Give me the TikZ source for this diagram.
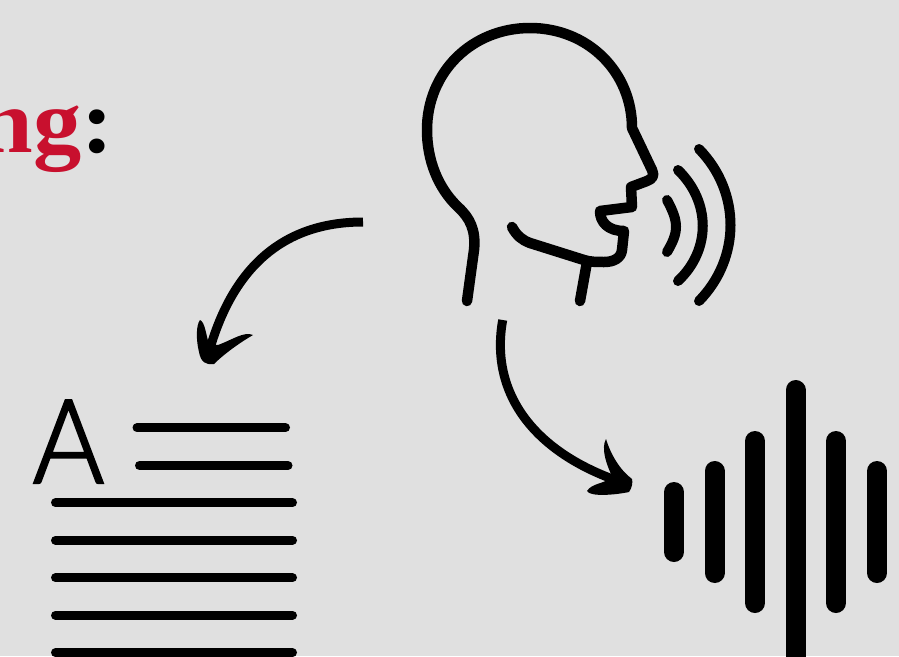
\documentclass[tikz,border=0pt]{standalone}
\usepackage{fontspec}
\setmainfont{Liberation Serif}
\newfontfamily\lightfont[FakeBold=2,FakeStretch=0.93]{Lato Light}
\newfontfamily\headfont[FakeStretch=1.06]{Liberation Serif Bold}
\definecolor{panelgray}{HTML}{E0E0E0}
\definecolor{headingred}{HTML}{C8102E}
\begin{document}
\begin{tikzpicture}[
    x=1pt, y=-1pt,
    icon_line/.style={line width=10.5pt, line cap=round, line join=round},
    wave_line/.style={line width=10pt, line cap=round},
    text_line/.style={line width=9pt, line cap=round},
    sound_bar/.style={line width=20pt, line cap=round},
    curve_arrow/.style={line width=9pt, line cap=butt},
    arrow_head/.style={fill=black, draw=none}
]
    \useasboundingbox (0,0) rectangle (899,656);
    \clip (0,0) rectangle (899,656);
    \fill[panelgray] (0,0) rectangle (899,656);

    % Heading
    \node[anchor=base east, inner sep=0pt, font=\headfont\fontsize{91}{91}\selectfont] (heading) at (114,152) {\textcolor{headingred}{ng}:};

    % Speaking head
    \draw[icon_line] (467,301) -- (474,250) .. controls (476,230) and (470,218) .. (458,207)
        .. controls (438,188) and (427,160) .. (427,130)
        .. controls (427,72) and (472,28) .. (530,28)
        .. controls (588,28) and (632,72) .. (632,128)
        -- (652,170) .. controls (655,176) and (652,179) .. (647,181)
        -- (631,187) -- (632,207) -- (600,211)
        .. controls (600,222) and (608,231) .. (624,231)
        -- (622,250) .. controls (621,258) and (614,262) .. (604,262)
        .. controls (597,262) and (590,262) .. (584,260)
        -- (530,243) .. controls (522,240) and (517,236) .. (512,227);
    \coordinate (neckfront) at (587,262);
    \draw[icon_line] (neckfront) -- (580,301);
    \draw[wave_line] (667,200) .. controls (679,222) and (679,232) .. (667,252);
    \draw[wave_line] (678,170) .. controls (711,202) and (711,250) .. (678,281);
    \draw[wave_line] (699,149) .. controls (741,192) and (741,258) .. (699,301);

    % Text block
    \node[anchor=base, inner sep=0pt, font=\lightfont\fontsize{117}{117}\selectfont] (letter) at (68.5,483) {A};
    \draw[text_line] (137,427.7) -- (285.5,427.7);
    \draw[text_line] (139.5,465.5) -- (288,465.5);
    \foreach \liney in {502.7,540.2,577.8,615.2,652.7}
        \draw[text_line] (55.5,\liney) -- (292.5,\liney);

    % Sound bars
    \foreach \barx/\bartop/\barbottom in {674/492/552, 714.5/471/573, 755/441/603, 795.5/390/670, 836/441/603, 877/471/573}
        \draw[sound_bar] (\barx,\bartop) -- (\barx,\barbottom);

    % Arrows
    \coordinate (speechleft) at (363,222);
    \coordinate (textend) at (211,345);
    \coordinate (speechdown) at (502.7,320);
    \coordinate (soundend) at (618,481);
    \draw[curve_arrow] (speechleft) .. controls (290,222) and (237,260) .. (textend);
    \draw[curve_arrow] (speechdown) .. controls (490,390) and (530,450) .. (soundend);
    \fill[arrow_head] (200,320) .. controls (196,325) and (196,340) .. (199,352)
        .. controls (201,362) and (205,365) .. (214,364)
        .. controls (222,356) and (236,345) .. (253,335)
        .. controls (244,331) and (232,340) .. (218,345)
        -- (209,344) .. controls (206,335) and (205,322) .. (200,320) -- cycle;
    \fill[arrow_head] (606,439) .. controls (601,448) and (606,463) .. (611,474)
        -- (610,478) .. controls (604,484) and (592,483) .. (587,491)
        .. controls (590,497) and (615,495) .. (629,492)
        .. controls (632,488) and (633,482) .. (632,479)
        .. controls (620,470) and (611,455) .. (606,439) -- cycle;
\end{tikzpicture}
\end{document}
